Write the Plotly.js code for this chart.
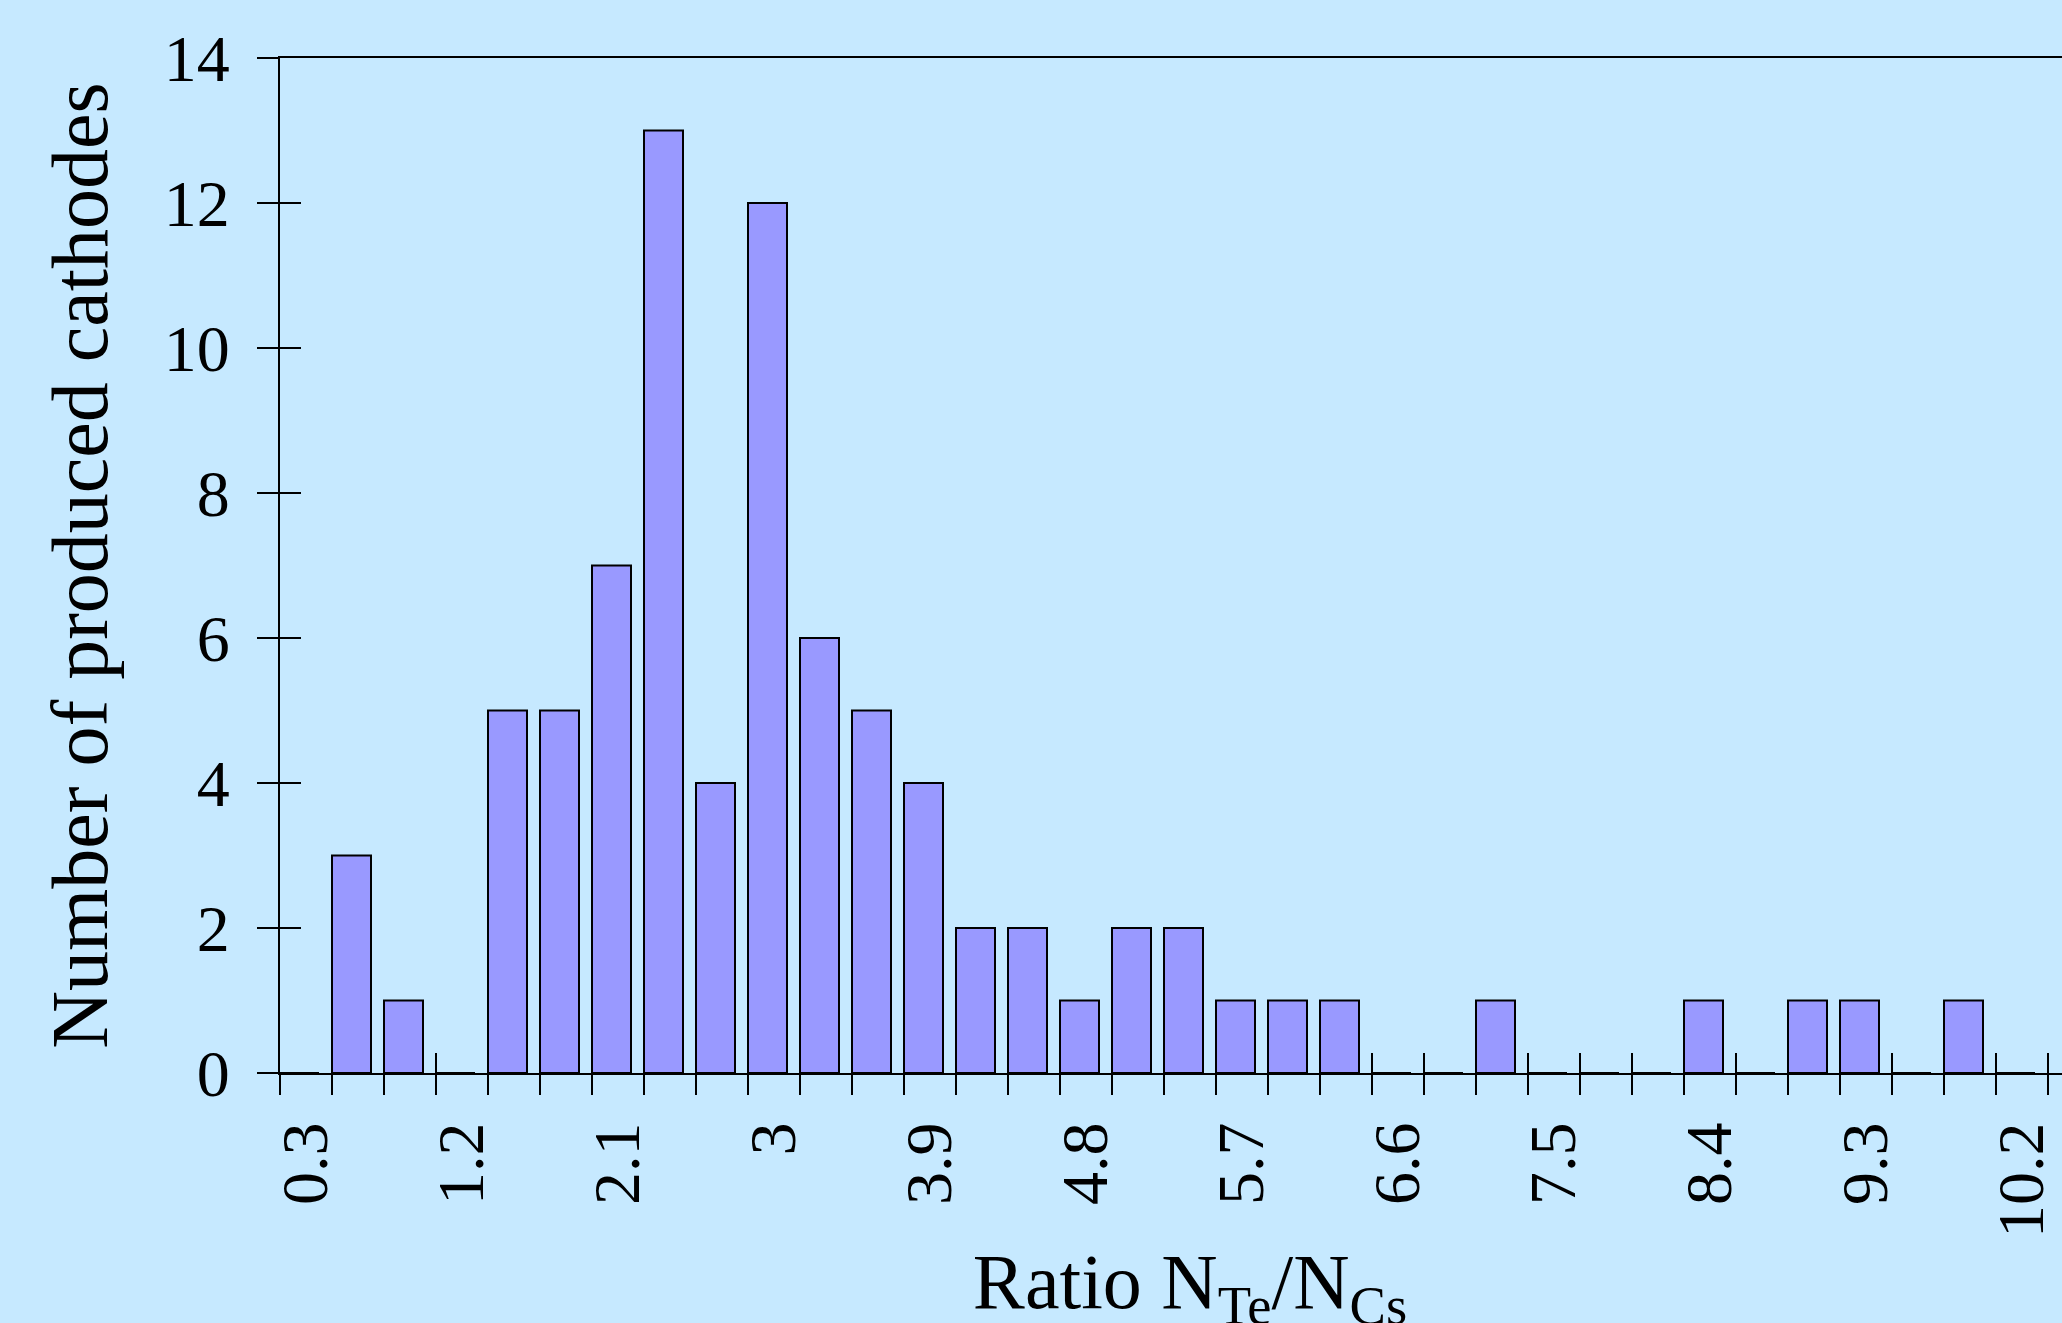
<!DOCTYPE html>
<html>
<head>
<meta charset="utf-8">
<script src="https://cdn.plot.ly/plotly-3.0.1.min.js"></script>
<style>
html, body { margin: 0; padding: 0; overflow: hidden; background: #C6E9FF; width: 2062px; height: 1323px; }
#chart { width: 2120px; height: 1380px; }
</style>
</head>
<body>
<div id="chart"></div>
<script>
// Bin positions (ratio N_Te/N_Cs), step 0.3
const ratioBins = [0.3, 0.6, 0.9, 1.2, 1.5, 1.8, 2.1, 2.4, 2.7, 3.0, 3.3, 3.6, 3.9, 4.2, 4.5, 4.8, 5.1,
                   5.4, 5.7, 6.0, 6.3, 6.6, 6.9, 7.2, 7.5, 7.8, 8.1, 8.4, 8.7, 9.0, 9.3, 9.6, 9.9, 10.2];
// Number of produced cathodes in each bin
const cathodeCounts = [0, 3, 1, 0, 5, 5, 7, 13, 4, 12, 6, 5, 4, 2, 2, 1, 2,
                       2, 1, 1, 1, 0, 0, 1, 0, 0, 0, 1, 0, 1, 1, 0, 1, 0];
// X tick labels
const xTickValues = [0.3, 1.2, 2.1, 3.0, 3.9, 4.8, 5.7, 6.6, 7.5, 8.4, 9.3, 10.2];
const xTickLabels = ["0.3", "1.2", "2.1", "3", "3.9", "4.8", "5.7", "6.6", "7.5", "8.4", "9.3", "10.2"];
// Y tick labels
const yTickValues = [0, 2, 4, 6, 8, 10, 12, 14];
const yTickLabels = ["0", "2", "4", "6", "8", "10", "12", "14"];

const binStep = 0.3;
const FONT = "'Liberation Serif', 'Times New Roman', serif";
const xRange = [ratioBins[0] - binStep / 2, ratioBins[ratioBins.length - 1] + binStep * 1.5];
const yRange = [0, 14];

const bars = {
  type: 'bar',
  x: ratioBins,
  y: cathodeCounts,
  width: binStep * 0.75,
  offset: -binStep / 2,
  marker: { color: '#9999FF', line: { color: '#000000', width: 2 } },
  hoverinfo: 'skip',
  xaxis: 'x', yaxis: 'y'
};
// transparent copy that carries the inner half of the crossing tick marks
const tickCarrier = {
  type: 'bar',
  x: ratioBins,
  y: cathodeCounts,
  width: binStep * 0.75,
  offset: -binStep / 2,
  marker: { color: 'rgba(0,0,0,0)', line: { width: 0 } },
  hoverinfo: 'skip',
  xaxis: 'x2', yaxis: 'y2'
};

const layout = {
  width: 2120,
  height: 1380,
  margin: { l: 280, r: 20, t: 58, b: 307 },
  paper_bgcolor: '#C6E9FF',
  plot_bgcolor: '#C6E9FF',
  showlegend: false,
  bargap: 0,
  font: { family: FONT, color: '#000000' },
  xaxis: {
    type: 'linear',
    range: xRange,
    tickmode: 'array',
    tickvals: xTickValues,
    ticktext: xTickLabels,
    ticks: '',
    tickangle: -90,
    ticklabelstandoff: 21,
    tickfont: { family: FONT, size: 66, color: '#000000' },
    minor: { tickmode: 'linear', tick0: ratioBins[0] - binStep / 2, dtick: binStep, ticks: 'outside', ticklen: 20, tickwidth: 1.5, tickcolor: '#000000', showgrid: false },
    showline: true, linecolor: '#000000', linewidth: 2, mirror: true,
    showgrid: false, zeroline: false,
    automargin: false,
    title: { text: 'Ratio N<sub>Te</sub>/N<sub>Cs</sub>', font: { family: FONT, size: 78, color: '#000000' }, standoff: 16 }
  },
  xaxis2: {
    type: 'linear',
    overlaying: 'x',
    anchor: 'y',
    side: 'bottom',
    range: xRange,
    tickmode: 'linear',
    tick0: ratioBins[0] - binStep / 2,
    dtick: binStep,
    ticks: 'inside', ticklen: 20, tickwidth: 1.5, tickcolor: '#000000',
    showticklabels: false, showline: false, showgrid: false, zeroline: false
  },
  yaxis: {
    range: yRange,
    tickmode: 'array',
    tickvals: yTickValues,
    ticktext: yTickLabels,
    ticks: 'outside', ticklen: 21, tickwidth: 1.5, tickcolor: '#000000',
    ticklabelstandoff: 14,
    tickfont: { family: FONT, size: 66, color: '#000000' },
    showline: true, linecolor: '#000000', linewidth: 2, mirror: true,
    showgrid: false, zeroline: false,
    automargin: false,
    title: { text: 'Number of produced cathodes', font: { family: FONT, size: 80, color: '#000000' }, standoff: 30 }
  },
  yaxis2: {
    overlaying: 'y',
    anchor: 'x',
    side: 'left',
    range: yRange,
    tickmode: 'array',
    tickvals: yTickValues,
    ticks: 'inside', ticklen: 21, tickwidth: 1.5, tickcolor: '#000000',
    showticklabels: false, showline: false, showgrid: false, zeroline: false
  }
};

Plotly.newPlot('chart', [bars, tickCarrier], layout, { staticPlot: true, displayModeBar: false });
</script>
</body>
</html>
